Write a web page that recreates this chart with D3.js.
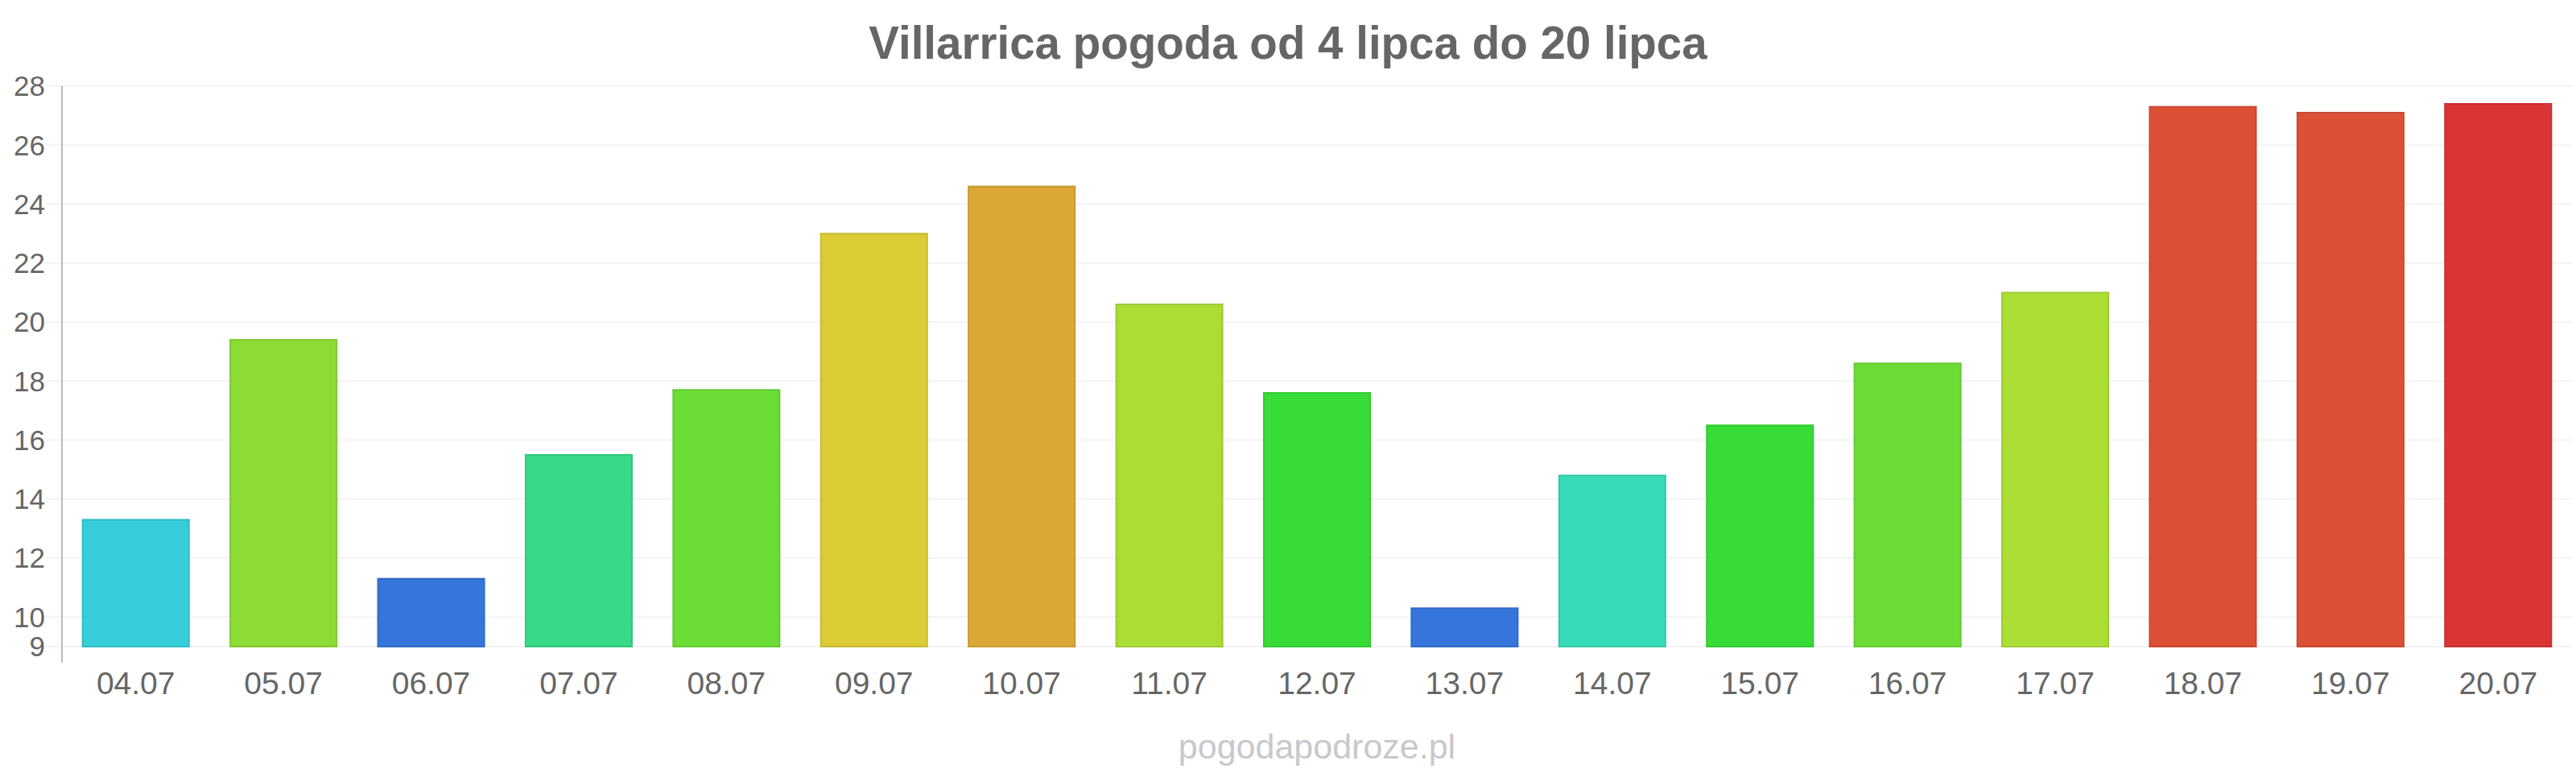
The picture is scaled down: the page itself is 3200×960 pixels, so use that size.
<!DOCTYPE html>
<html>
<head>
<meta charset="utf-8">
<script src="https://cdn.jsdelivr.net/npm/d3@7"></script>
<style>
    body { margin: 0; background: #fff; }
    text { font-family: "Liberation Sans", Arial, sans-serif; }
    .title { font-size: 56.5px; font-weight: bold; fill: #666; }
    .yTick { font-size: 35px; fill: #666; }
    .xTick { font-size: 39px; fill: #666; }
    .source { font-size: 43px; fill: #c8c8cd; }
</style>
</head>
<body>
<div id="chart"></div>
<script>
//Data
const days = ["04.07", "05.07", "06.07", "07.07", "08.07", "09.07", "10.07", "11.07", "12.07",
    "13.07", "14.07", "15.07", "16.07", "17.07", "18.07", "19.07", "20.07"];
const temps = [13.3, 19.4, 11.3, 15.5, 17.7, 23.0, 24.6, 20.6, 17.6,
    10.3, 14.8, 16.5, 18.6, 21.0, 27.3, 27.1, 27.4];
const barColors = ["#36ced9", "#8cdc35", "#3675db", "#36da88", "#6bdd36", "#dbcc35", "#dca835", "#acdd35", "#37dc37",
    "#3675db", "#38dbb7", "#37dc37", "#6cdd36", "#acdd35", "#dc5035", "#dc5035", "#da3535"];
const yTicks = [9, 10, 12, 14, 16, 18, 20, 22, 24, 26, 28];

//Global variables
const width = 3200;
const height = 960;
const plotLeft = 77;
const plotRight = 3195;
const plotTop = 107;
const plotBottom = 803;

const svg = d3.select("#chart")
    .append("svg")
    .attr("width", width)
    .attr("height", height);

//Scales
const xScale = d3.scaleBand()
    .domain(days)
    .range([plotLeft, plotRight])
    .paddingInner(0.28)
    .paddingOuter(0.14);

const yScale = d3.scaleLinear()
    .domain([9, 28])
    .range([plotBottom, plotTop]);

//Gridlines with short tick stubs left of the axis
svg.append("g")
    .selectAll("line")
    .data(yTicks)
    .enter()
    .append("line")
    .attr("x1", plotLeft - 20)
    .attr("x2", plotRight)
    .attr("y1", d => yScale(d))
    .attr("y2", d => yScale(d))
    .attr("stroke", "#f3f3f3")
    .attr("stroke-width", 2);

//Y axis line
svg.append("line")
    .attr("x1", plotLeft)
    .attr("x2", plotLeft)
    .attr("y1", plotTop)
    .attr("y2", plotBottom + 20)
    .attr("stroke", "#bbb")
    .attr("stroke-width", 2);

//Bars
svg.append("g")
    .selectAll("rect")
    .data(temps)
    .enter()
    .append("rect")
    .attr("x", (d, i) => xScale(days[i]))
    .attr("y", d => yScale(d))
    .attr("width", xScale.bandwidth())
    .attr("height", d => yScale(9) - yScale(d))
    .attr("fill", (d, i) => barColors[i])
    .attr("stroke", (d, i) => d3.color(barColors[i]).darker(0.25))
    .attr("stroke-width", 2);

//Y tick labels
svg.append("g")
    .selectAll("text")
    .data(yTicks)
    .enter()
    .append("text")
    .attr("class", "yTick")
    .attr("x", 56)
    .attr("y", d => yScale(d))
    .attr("dy", "0.35em")
    .attr("text-anchor", "end")
    .text(d => d);

//X tick labels
svg.append("g")
    .selectAll("text")
    .data(days)
    .enter()
    .append("text")
    .attr("class", "xTick")
    .attr("x", d => xScale(d) + xScale.bandwidth() / 2)
    .attr("y", 862)
    .attr("text-anchor", "middle")
    .text(d => d);

//Title
svg.append("text")
    .attr("class", "title")
    .attr("x", width / 2)
    .attr("y", 73)
    .attr("text-anchor", "middle")
    .text("Villarrica pogoda od 4 lipca do 20 lipca");

//Source
svg.append("text")
    .attr("class", "source")
    .attr("x", (plotLeft + plotRight) / 2)
    .attr("y", 942)
    .attr("text-anchor", "middle")
    .text("pogodapodroze.pl");
</script>
</body>
</html>
